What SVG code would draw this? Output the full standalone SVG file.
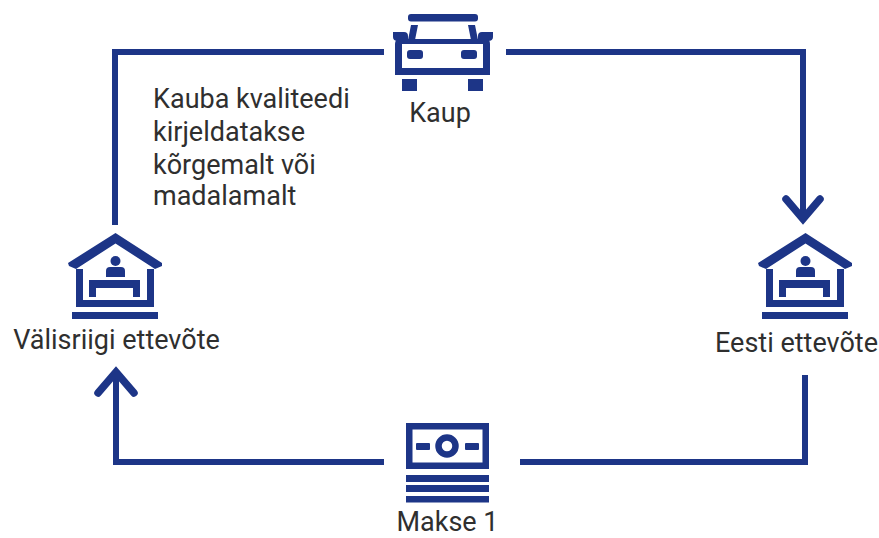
<svg xmlns="http://www.w3.org/2000/svg" width="879" height="538" viewBox="0 0 879 538">
<style>
.f{fill:#1d3587}
.s{fill:none;stroke:#1d3587;stroke-width:6;stroke-linejoin:miter}
.a{fill:none;stroke:#1d3587;stroke-width:7.5;stroke-linecap:round;stroke-linejoin:miter}
text{font-family:Roboto,"Liberation Sans",sans-serif;font-size:27px;fill:#2f2f2f}
</style>
<defs>
<g id="house">
<path class="f" d="M115.500 233 L162 263 L162 266 L155 269 L115.500 243.500 L76 269 L69 266 L68 263 Z"/>
<path class="f" d="M76 269h7v31h64v-31h7v38h-78z"/>
<rect class="f" x="72" y="312" width="86" height="7"/>
<circle class="f" cx="115.500" cy="261" r="5"/>
<path class="f" d="M106 277v-6q0-4 4-4h11q4 0 4 4v6z"/>
<path class="f" d="M89 280h51v17h-7v-9h-37v9h-7z"/>
</g>
</defs>
<g id="connectors">
<path class="s" d="M115 225V52H384"/>
<path class="s" d="M506 52H803V220"/>
<path class="a" d="M786 199L803 219L820 199"/>
<path class="s" d="M805 375V462H520"/>
<path class="s" d="M384 462H116V374"/>
<path class="a" d="M98 393L116 372L134 393"/>
</g>
<g id="car">
<rect class="f" x="408" y="14" width="70" height="7.500" rx="3"/>
<path class="f" d="M411 25h7l-3 15h-7zM468 25h7l3 15h-7z"/>
<path class="f" d="M393 32h11q4 0 4 4v5h-10q-5 0-5-4zM493 32h-11q-4 0-4 4v5h10q5 0 5-4z"/>
<path class="f" fill-rule="evenodd" d="M400 39H486Q490 39 490 44V75H395V44Q395 39 400 39ZM402 44V68H483V44Z"/>
<rect class="f" x="407" y="50" width="16" height="9" rx="3"/>
<rect class="f" x="461" y="50" width="16" height="9" rx="3"/>
<rect class="f" x="402" y="79" width="15" height="12"/>
<rect class="f" x="468" y="79" width="15" height="12"/>
<text x="440" y="122" text-anchor="middle">Kaup</text>
</g>
<g id="note">
<text x="153" y="108">Kauba kvaliteedi</text>
<text x="153" y="141">kirjeldatakse</text>
<text x="153" y="174">kõrgemalt või</text>
<text x="153" y="205">madalamalt</text>
</g>
<g id="foreign-company">
<use href="#house"/>
<text x="116.500" y="349" text-anchor="middle">Välisriigi ettevõte</text>
</g>
<g id="estonian-company">
<use href="#house" x="690"/>
<text x="796.500" y="352" text-anchor="middle">Eesti ettevõte</text>
</g>
<g id="payment">
<path class="f" fill-rule="evenodd" d="M406 423H489V469H406ZM412.500 429.500V462.500H482.500V429.500Z"/>
<circle cx="447" cy="446" r="8.500" fill="none" stroke="#1d3587" stroke-width="6.500"/>
<rect class="f" x="416" y="443" width="14" height="7" rx="1"/>
<rect class="f" x="465" y="443" width="14" height="7" rx="1"/>
<rect class="f" x="406" y="475" width="83" height="7"/>
<rect class="f" x="406" y="485" width="83" height="7"/>
<rect class="f" x="406" y="496" width="83" height="6.500"/>
<text x="447.500" y="531" text-anchor="middle">Makse 1</text>
</g>
</svg>
